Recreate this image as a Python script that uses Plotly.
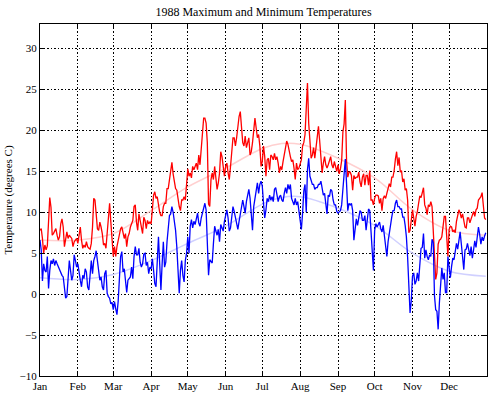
import plotly.graph_objects as go

# ---- Data: daily maximum temperatures (deg C), 1988, by month ----
MAX_JAN = [7.8, 8.0, 6.8, 5.0, 6.0, 5.4, 5.9, 9.6, 11.8, 10.6, 7.2, 7.4, 7.8, 8.0, 7.2, 6.6, 7.0, 8.6, 9.2, 8.2,
           5.8, 6.6, 7.6, 6.8, 7.2, 7.0, 6.8, 5.8, 6.4, 6.6, 6.8]
MAX_FEB = [6.2, 7.2, 8.2, 6.6, 5.6, 6.0, 5.7, 6.4, 5.8, 5.6, 5.5, 6.2, 8.2, 11.7, 11.5, 9.8, 8.0, 7.8, 8.8,
           8.2, 7.4, 6.0, 6.2, 5.6, 7.4, 9.4, 11.1, 8.8, 5.8]
MAX_MAR = [4.6, 5.8, 4.6, 5.8, 6.6, 7.0, 8.0, 8.2, 7.6, 6.8, 7.4, 5.8, 7.0, 7.4, 8.2, 8.6, 9.0, 10.7, 10.9, 8.8,
           7.8, 9.8, 9.0, 8.2, 7.4, 9.4, 9.0, 8.0, 9.0, 8.6, 8.8]
MAX_APR = [8.6, 10.7, 12.1, 12.5, 11.7, 11.9, 10.7, 10.0, 9.6, 9.6, 10.7, 11.1, 11.1, 12.9, 12.9, 13.9, 15.1,
           16.1, 14.7, 13.7, 12.9, 12.7, 11.5, 10.7, 10.2, 11.5, 11.5, 11.9, 11.5, 13.5]
MAX_MAY = [15.3, 14.4, 14.8, 14.2, 15.6, 15.2, 15.6, 16.0, 15.2, 17.0, 15.8, 17.4, 19.3, 21.5, 21.5, 20.9,
           18.5, 11.0, 10.7, 14.0, 14.8, 14.0, 15.6, 14.4, 12.8, 13.6, 14.8, 17.4, 16.8, 15.6, 14.4]
MAX_JUN = [15.6, 16.0, 14.8, 14.0, 15.6, 17.7, 19.1, 19.1, 18.1, 19.1, 20.5, 21.7, 22.3, 20.3, 18.5, 18.1,
           19.3, 17.9, 18.7, 19.1, 17.0, 17.4, 18.5, 20.3, 21.5, 20.3, 19.1, 19.5, 18.1, 15.6]
MAX_JUL = [16.2, 18.1, 16.8, 14.4, 16.4, 16.6, 15.2, 17.0, 16.8, 16.4, 17.2, 16.4, 16.8, 16.0, 14.8, 15.6,
           15.2, 16.2, 17.2, 18.3, 18.7, 18.3, 17.4, 16.8, 16.2, 16.4, 15.4, 14.0, 16.0, 15.2, 15.4]
MAX_AUG = [16.0, 16.4, 18.1, 18.5, 19.5, 23.0, 25.8, 20.9, 18.1, 16.6, 17.0, 17.9, 16.6, 18.1, 19.5, 20.5,
           18.7, 16.6, 14.8, 16.0, 16.8, 15.8, 15.4, 15.8, 16.4, 16.8, 15.8, 15.4, 16.2, 15.6, 15.0]
MAX_SEP = [15.8, 14.7, 15.3, 16.3, 19.8, 20.8, 23.7, 16.3, 14.3, 14.9, 14.9, 14.5, 12.7, 14.5, 14.1, 14.3,
           14.3, 14.9, 13.7, 13.1, 14.3, 14.7, 13.3, 14.5, 14.5, 13.3, 15.1, 11.5, 11.5, 10.9]
MAX_OCT = [11.7, 12.1, 12.1, 12.0, 11.1, 11.7, 10.2, 11.7, 12.0, 11.7, 12.3, 12.9, 13.5, 13.1, 14.3, 14.3,
           15.1, 16.5, 17.4, 15.7, 16.7, 14.9, 15.1, 13.7, 14.1, 12.7, 12.9, 11.5, 7.5, 7.8, 9.0]
MAX_NOV = [10.3, 9.3, 8.3, 9.5, 10.1, 11.1, 12.0, 11.8, 12.6, 13.0, 10.9, 10.5, 9.7, 10.9, 10.7, 11.3, 10.7,
           7.9, 5.0, 1.8, 2.6, 6.1, 6.6, 6.7, 7.0, 8.1, 9.5, 9.5, 7.5, 4.6]
MAX_DEC = [7.9, 8.3, 8.2, 7.6, 7.8, 7.5, 8.9, 9.9, 10.3, 9.9, 9.3, 9.8, 8.9, 8.2, 8.1, 9.3, 9.3, 8.7, 9.2,
           9.7, 10.1, 9.5, 10.3, 10.5, 11.5, 11.7, 11.9, 12.4, 10.3, 9.3, 9.1]

# ---- Data: daily minimum temperatures (deg C), 1988, by month ----
MIN_JAN = [6.6, 5.4, 1.6, 3.7, 2.9, 2.7, 4.6, 0.7, 2.9, 4.1, 3.7, 4.3, 3.5, 4.1, 3.7, 3.3, 2.9, 2.5, 2.3, 2.1,
           1.1, -0.5, -0.3, 2.5, 4.1, 2.9, 1.7, 2.3, 4.8, 4.1, 3.3]
MIN_FEB = [3.7, 2.5, 1.7, 0.9, 2.3, 1.9, 3.1, 2.7, 0.9, 0.5, 2.7, 4.1, 2.5, 4.1, 4.6, 5.3, 4.1, 2.9, 1.7,
           2.1, 0.9, 0.5, 2.5, 2.9, 0.1, -0.3, -0.5, -1.2, -1.0]
MIN_MAR = [-1.9, -0.9, -1.8, -2.5, -0.9, 2.7, 4.6, 5.2, 2.7, 3.1, 1.5, 0.2, 1.7, 1.9, 2.1, 3.3, 1.9, 4.6, 5.8,
           4.8, 4.8, 5.6, 3.9, 3.3, 3.7, 4.9, 5.0, 3.5, 3.9, 2.5, 3.3]
MIN_APR = [3.1, 4.3, 2.9, 1.3, 0.9, 4.1, 7.0, 3.7, 0.5, 3.7, 6.4, 3.3, 3.9, 6.4, 8.6, 9.6, 9.8, 10.7, 10.0,
           8.8, 7.8, 5.8, 2.5, 0.1, 2.9, 4.1, 2.3, 1.5, 4.1, 5.0]
MIN_MAY = [7.0, 5.0, 8.3, 9.1, 8.1, 8.9, 8.5, 9.5, 9.9, 8.7, 8.3, 9.3, 9.9, 10.3, 11.1, 10.3, 7.0, 2.3, 4.2,
           4.0, 3.8, 6.2, 8.3, 7.7, 7.2, 7.9, 6.4, 8.5, 8.1, 7.7, 8.9]
MIN_JUN = [9.7, 10.3, 9.3, 7.7, 8.1, 9.7, 10.7, 10.1, 9.3, 8.3, 7.9, 8.9, 9.9, 10.9, 11.5, 10.7, 9.9, 11.3,
           12.3, 12.8, 11.7, 10.1, 7.8, 10.7, 11.7, 13.0, 13.6, 12.3, 13.4, 13.8]
MIN_JUL = [13.2, 11.1, 9.3, 10.3, 11.7, 11.3, 12.1, 11.5, 11.9, 11.3, 12.8, 13.0, 12.1, 11.3, 11.9, 12.1,
           11.5, 11.3, 12.3, 13.0, 12.3, 13.4, 12.8, 13.4, 11.7, 11.3, 10.9, 11.7, 10.9, 11.3, 10.3]
MIN_AUG = [9.5, 7.9, 9.9, 12.6, 13.4, 10.0, 15.2, 16.6, 14.4, 14.0, 13.4, 13.4, 12.8, 13.0, 13.0, 13.4, 13.4,
           13.8, 12.6, 12.1, 12.3, 11.1, 9.8, 12.1, 11.9, 12.8, 12.6, 11.5, 10.9, 10.9, 10.1]
MIN_SEP = [9.9, 10.0, 10.2, 10.9, 12.7, 15.5, 16.5, 13.5, 10.2, 11.1, 10.9, 11.1, 10.2, 6.6, 8.4, 9.2, 8.4,
           9.2, 10.2, 10.0, 9.0, 9.0, 9.6, 7.8, 9.2, 10.4, 10.2, 7.8, 4.6, 2.9]
MIN_OCT = [7.8, 8.6, 8.2, 8.6, 8.8, 8.0, 7.6, 8.4, 7.0, 5.4, 4.6, 6.4, 7.6, 8.4, 9.4, 10.2, 10.2, 11.1, 11.5,
           10.7, 10.7, 10.4, 10.4, 9.4, 9.4, 8.4, 7.0, 4.5, 0.5, -2.3, -0.8]
MIN_NOV = [2.2, 2.6, 1.2, 1.6, 2.6, 1.6, 4.0, 5.6, 5.7, 7.4, 4.4, 5.4, 4.6, 4.2, 4.8, 4.6, 6.7, 6.3, -0.2,
           -1.9, -2.1, -4.3, -1.1, 1.8, 3.2, 1.8, 2.6, 0.2, 0.2, 4.6]
MIN_DEC = [3.6, 2.0, 3.4, 4.4, 4.2, 5.4, 6.2, 5.5, 6.5, 7.6, 6.1, 4.6, 3.0, 5.4, 5.5, 6.2, 5.2, 4.7, 5.8,
           4.4, 5.4, 6.5, 5.7, 6.8, 8.2, 7.3, 6.1, 7.0, 6.5, 7.1, 7.5]

# ---- Seasonal smooth curves (read at a few days of the year) ----
FIT_DAYS = [1, 32, 61, 92, 122, 153, 183, 199, 214, 245, 275, 306, 336, 366]
FIT_MAX = [6.6, 6.6, 7.4, 10.2, 13.1, 15.4, 17.8, 18.4, 18.3, 16.6, 14.2, 10.3, 7.8, 7.2]
FIT_MIN = [2.0, 1.8, 2.4, 4.1, 6.2, 8.3, 11.0, 11.8, 11.9, 10.5, 8.4, 5.0, 2.8, 2.2]

# ---- Axis ticks ----
MONTH_DAYS = [1, 32, 61, 92, 122, 153, 183, 214, 245, 275, 306, 336]
MONTH_LABELS = ["Jan", "Feb", "Mar", "Apr", "May", "Jun", "Jul", "Aug", "Sep", "Oct", "Nov", "Dec"]
Y_TICKS = [-10, -5, 0, 5, 10, 15, 20, 25, 30]

tmax = (MAX_JAN + MAX_FEB + MAX_MAR + MAX_APR + MAX_MAY + MAX_JUN +
        MAX_JUL + MAX_AUG + MAX_SEP + MAX_OCT + MAX_NOV + MAX_DEC)
tmin = (MIN_JAN + MIN_FEB + MIN_MAR + MIN_APR + MIN_MAY + MIN_JUN +
        MIN_JUL + MIN_AUG + MIN_SEP + MIN_OCT + MIN_NOV + MIN_DEC)
days_max = list(range(1, len(tmax) + 1))
days_min = list(range(1, len(tmin) + 1))

FONT = "Liberation Serif, Times New Roman, serif"

fig = go.Figure()
fig.add_trace(go.Scatter(x=FIT_DAYS, y=FIT_MAX, mode="lines",
                         line=dict(color="#ffd0d0", width=1.5, shape="spline"),
                         hoverinfo="skip", showlegend=False))
fig.add_trace(go.Scatter(x=FIT_DAYS, y=FIT_MIN, mode="lines",
                         line=dict(color="#d0d0ff", width=1.5, shape="spline"),
                         hoverinfo="skip", showlegend=False))
fig.add_trace(go.Scatter(x=days_max, y=tmax, mode="lines",
                         line=dict(color="#ff0000", width=1.3), showlegend=False))
fig.add_trace(go.Scatter(x=days_min, y=tmin, mode="lines",
                         line=dict(color="#0000ff", width=1.3), showlegend=False))

axis_common = dict(
    showline=True, linecolor="black", linewidth=1, mirror="ticks",
    ticks="inside", ticklen=4, tickcolor="black", tickwidth=1,
    showgrid=True, gridcolor="black", gridwidth=1, griddash="2px,2px,1px,2px",
    zeroline=False, automargin=False,
    tickfont=dict(family=FONT, size=11, color="black"),
)

fig.update_xaxes(range=[1, 367], tickmode="array", tickvals=MONTH_DAYS,
                 ticktext=MONTH_LABELS, **axis_common)
fig.update_yaxes(range=[-10, 33], tickmode="array", tickvals=Y_TICKS,
                 title=dict(text="Temperature (degrees C)",
                            font=dict(family=FONT, size=11, color="black"), standoff=4),
                 **axis_common)

fig.update_layout(
    width=500, height=399,
    margin=dict(l=40, r=13, t=24, b=23, pad=0),
    paper_bgcolor="white", plot_bgcolor="white",
    title=dict(text="1988 Maximum and Minimum Temperatures",
               font=dict(family=FONT, size=12, color="black"),
               x=0.527, xanchor="center", y=0.971, yanchor="middle"),
    showlegend=False,
)

fig.write_html("out.html",
               config={"displayModeBar": False, "staticPlot": True},
               post_script="document.body.style.margin='0';document.body.style.overflow='hidden';")
